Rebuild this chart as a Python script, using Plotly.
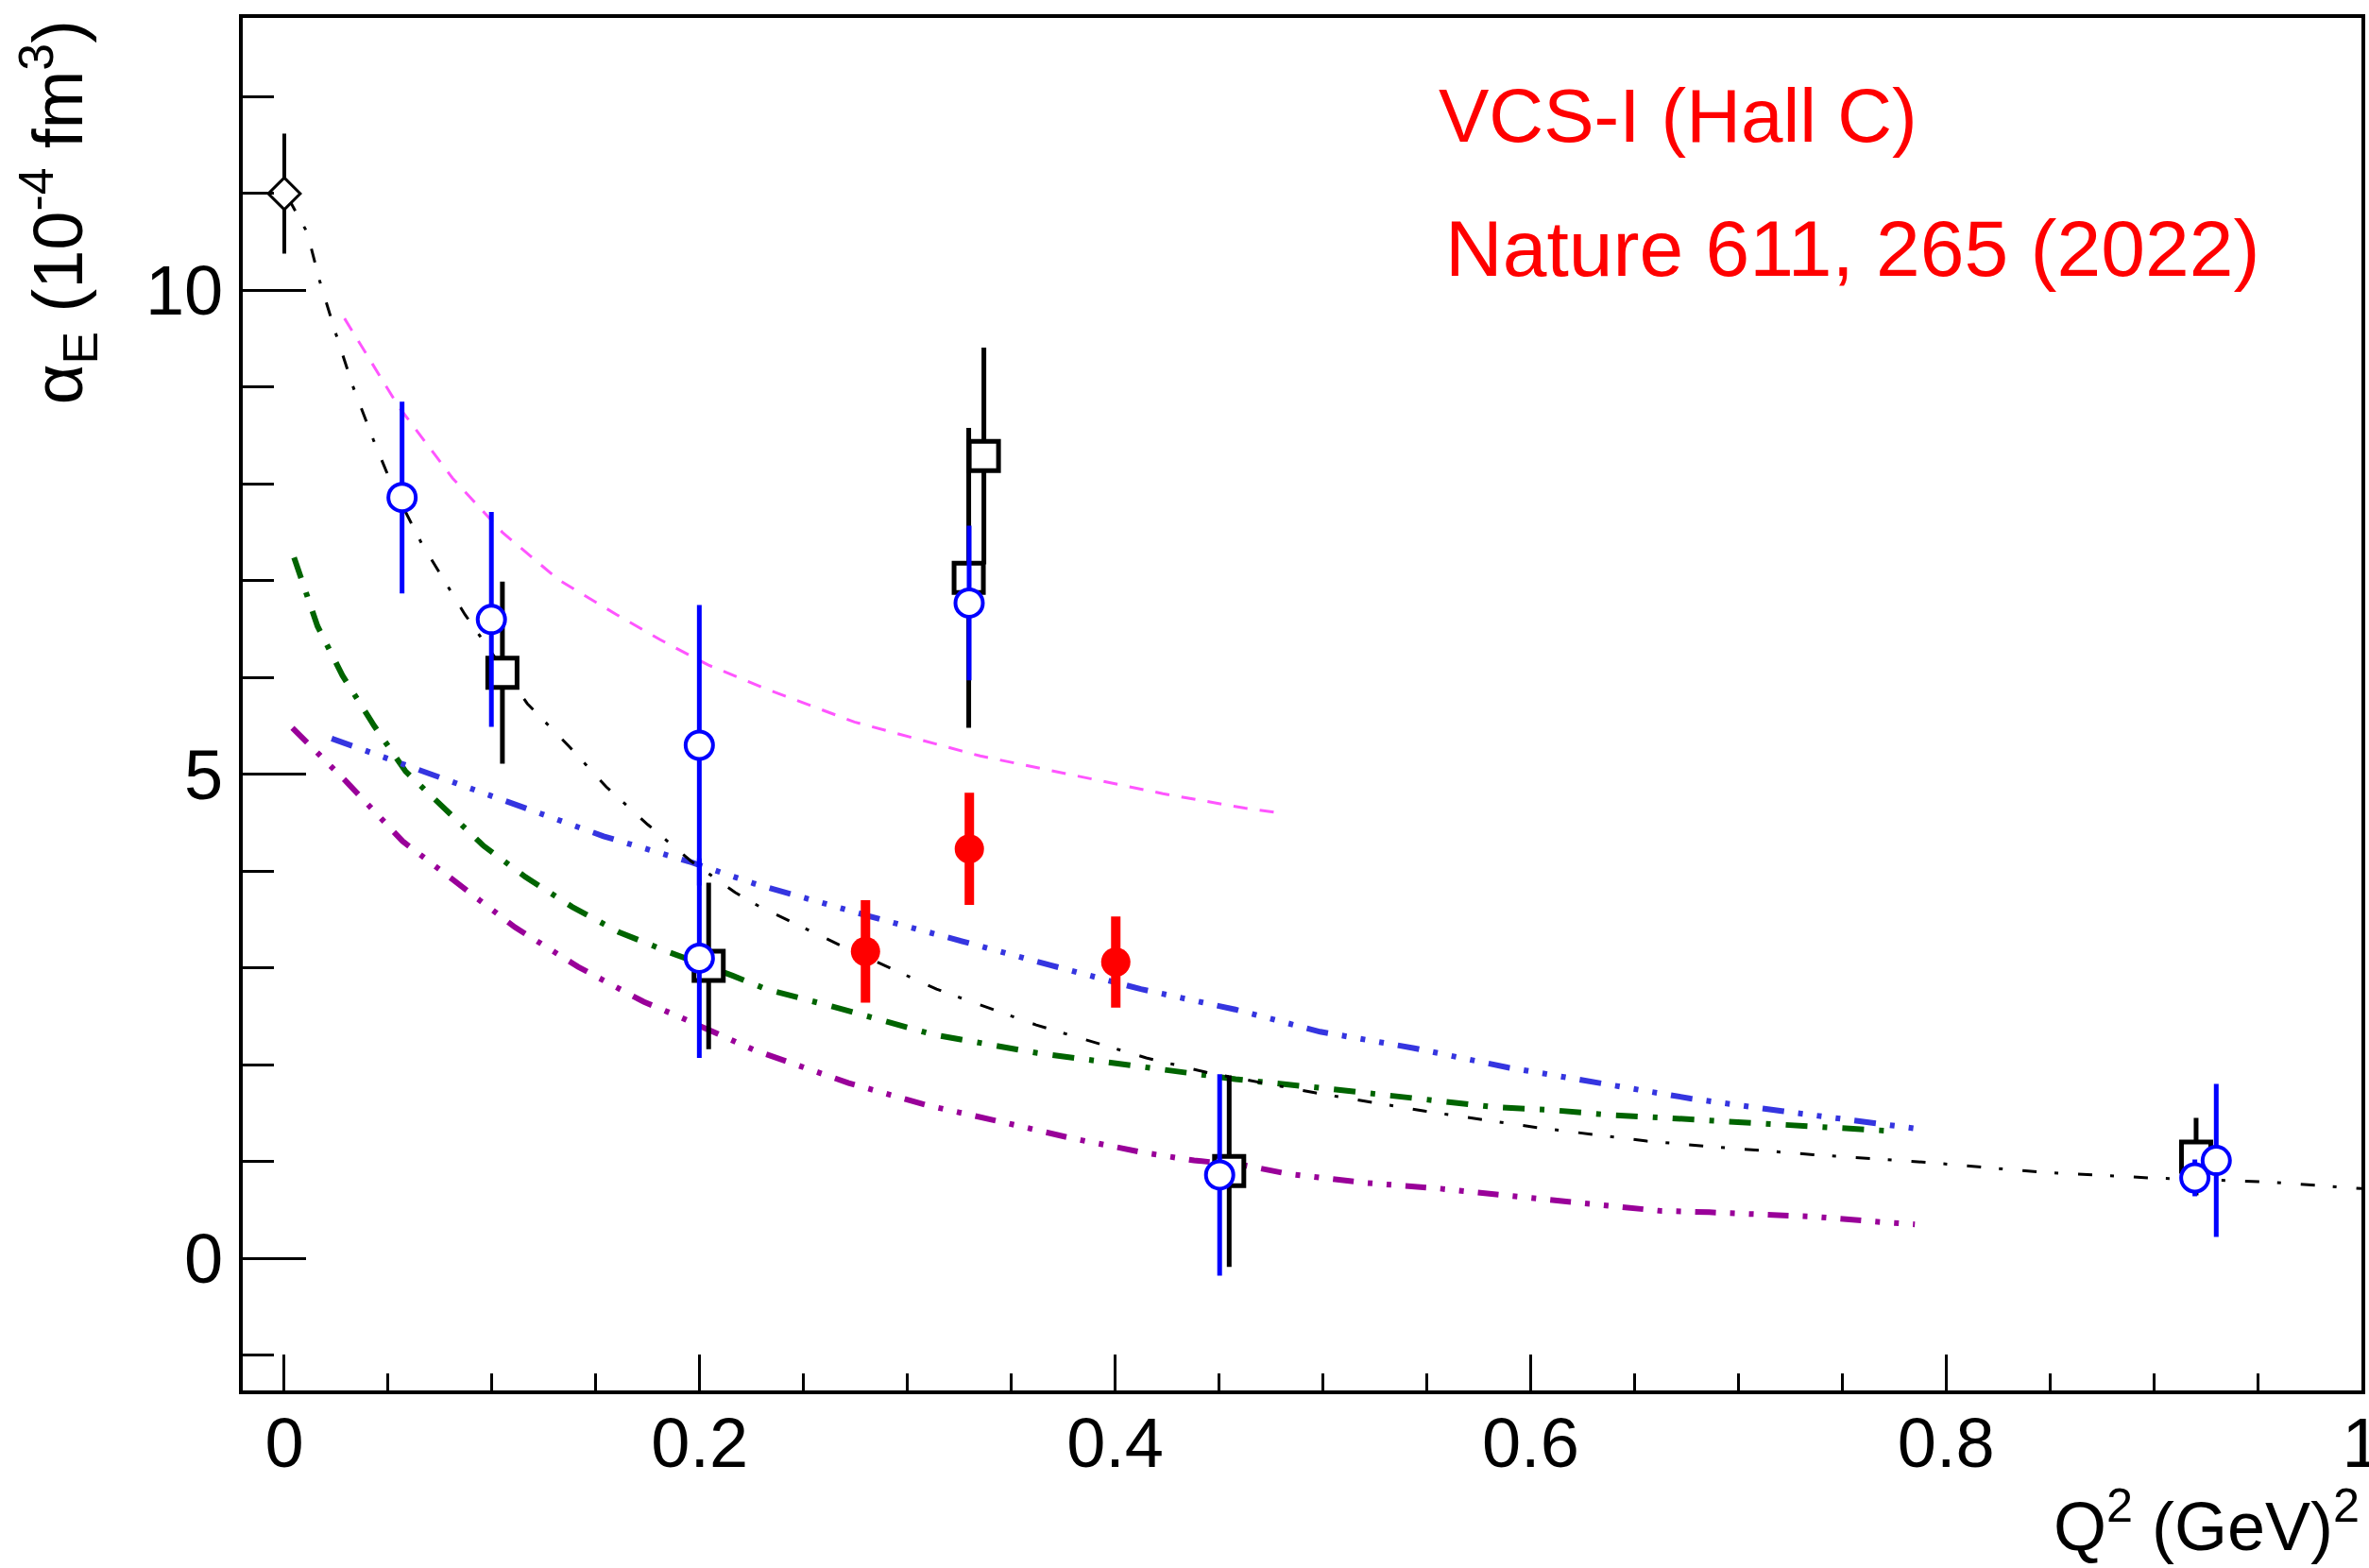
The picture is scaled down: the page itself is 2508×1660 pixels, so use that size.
import plotly.graph_objects as go

# ---------------- data ----------------
# RCS point (open diamond)
rcs_x = [0.0]
rcs_y = [11.0]
rcs_err = [0.62]

# black open squares
sq_x = [0.1050, 0.2043, 0.3295, 0.3368, 0.4549, 0.9204]
sq_y = [6.05, 3.02, 7.03, 8.29, 0.90, 1.05]
sq_err = [0.94, 0.86, 1.55, 1.12, 0.99, 0.40]

# blue open circles
bl_x = [0.0567, 0.0997, 0.1998, 0.1998, 0.3297, 0.4503, 0.9198, 0.9301]
bl_y = [7.86, 6.60, 5.30, 3.10, 6.77, 0.86, 0.83, 1.01]
bl_err = [0.99, 1.11, 1.45, 1.03, 0.80, 1.04, 0.19, 0.79]

# red filled circles (VCS-I Hall C)
red_x = [0.2798, 0.3298, 0.4003]
red_y = [3.17, 4.23, 3.06]
red_err = [0.53, 0.58, 0.47]

# black dash-dot curve
k_x = [0.002, 0.011, 0.017, 0.025, 0.033, 0.043, 0.052, 0.066, 0.087, 0.117, 0.137,
       0.155, 0.175, 0.196, 0.217, 0.229, 0.267, 0.314, 0.362, 0.415, 0.444, 0.496,
       0.549, 0.603, 0.656, 0.683, 0.736, 0.791, 0.845, 0.898, 0.953, 1.0]
k_y = [10.95, 10.6, 10.1, 9.54, 9.01, 8.45, 7.98, 7.39, 6.65, 5.73, 5.29,
       4.87, 4.48, 4.10, 3.78, 3.63, 3.24, 2.78, 2.41, 2.07, 1.92, 1.71,
       1.52, 1.35, 1.21, 1.16, 1.07, 0.99, 0.89, 0.83, 0.79, 0.72]

# magenta dashed curve
m_x = [0.029, 0.055, 0.081, 0.105, 0.132, 0.160, 0.181, 0.204, 0.231, 0.2745,
       0.335, 0.378, 0.423, 0.4625, 0.480]
m_y = [9.71, 8.80, 8.06, 7.50, 7.01, 6.65, 6.39, 6.13, 5.89, 5.54,
       5.19, 5.00, 4.80, 4.65, 4.60]

# blue dash-dot-dot-dot curve
b_x = [0.0228, 0.0689, 0.111, 0.1537, 0.196, 0.2263, 0.2823, 0.326, 0.3685, 0.4124,
       0.4578, 0.4987, 0.544, 0.5893, 0.6318, 0.677, 0.721, 0.7664, 0.789]
b_y = [5.37, 5.01, 4.69, 4.36, 4.09, 3.87, 3.53, 3.27, 3.03, 2.78,
       2.57, 2.34, 2.17, 1.97, 1.81, 1.65, 1.52, 1.40, 1.33]

# green dash-dot curve
g_x = [0.0047, 0.016, 0.028, 0.0433, 0.0584, 0.0765, 0.096, 0.116, 0.1386, 0.161,
       0.1855, 0.2158, 0.232, 0.264, 0.3126, 0.3625, 0.4185, 0.458, 0.4987, 0.529,
       0.556, 0.5834, 0.6107, 0.638, 0.665, 0.691, 0.717, 0.7446, 0.777]
g_y = [7.24, 6.53, 6.02, 5.50, 5.03, 4.65, 4.26, 3.94, 3.63, 3.37,
       3.16, 2.92, 2.78, 2.60, 2.31, 2.12, 1.97, 1.85, 1.76, 1.69,
       1.63, 1.56, 1.53, 1.48, 1.45, 1.42, 1.385, 1.35, 1.31]

# purple dash-dot-dot curve
p_x = [0.0039, 0.0296, 0.0569, 0.0825, 0.111, 0.1415, 0.173, 0.1885, 0.2263, 0.2717,
       0.3095, 0.347, 0.379, 0.414, 0.438, 0.4624, 0.4836, 0.52, 0.556, 0.5925,
       0.6288, 0.662, 0.686, 0.736, 0.771, 0.785]
p_y = [5.48, 4.93, 4.31, 3.89, 3.42, 3.01, 2.65, 2.51, 2.15, 1.81,
       1.58, 1.40, 1.24, 1.09, 1.01, 0.96, 0.87, 0.78, 0.72, 0.64,
       0.56, 0.49, 0.475, 0.43, 0.37, 0.35]

# axis tick labels
x_tickvals = [0, 0.2, 0.4, 0.6, 0.8, 1.0]
x_ticktext = ["0", "0.2", "0.4", "0.6", "0.8", "1"]

FONT = "Liberation Sans"

fig = go.Figure()

# curves
fig.add_trace(go.Scatter(x=m_x, y=m_y, mode="lines",
                         line=dict(color="#ff55ff", width=3, dash="15px,13px")))
fig.add_trace(go.Scatter(x=p_x, y=p_y, mode="lines",
                         line=dict(color="#990099", width=6,
                                   dash="22px,15px,5px,15px,5px,15px")))
fig.add_trace(go.Scatter(x=g_x, y=g_y, mode="lines",
                         line=dict(color="#006400", width=6,
                                   dash="23px,16px,5px,16px")))
fig.add_trace(go.Scatter(x=b_x, y=b_y, mode="lines",
                         line=dict(color="#3535e0", width=6,
                                   dash="23px,15px,5px,15px,5px,15px,5px,15px")))
fig.add_trace(go.Scatter(x=k_x, y=k_y, mode="lines",
                         line=dict(color="black", width=3,
                                   dash="15px,19px,4px,21px")))

# data points
fig.add_trace(go.Scatter(
    x=sq_x, y=sq_y, mode="markers",
    marker=dict(symbol="square", size=31, color="white",
                line=dict(color="black", width=5)),
    error_y=dict(type="data", array=sq_err, visible=True, color="black",
                 thickness=5, width=0)))
fig.add_trace(go.Scatter(
    x=bl_x, y=bl_y, mode="markers",
    marker=dict(symbol="circle", size=29, color="white",
                line=dict(color="#0000ff", width=4)),
    error_y=dict(type="data", array=bl_err, visible=True, color="#0000ff",
                 thickness=5, width=0)))
fig.add_trace(go.Scatter(
    x=red_x, y=red_y, mode="markers",
    marker=dict(symbol="circle", size=31, color="#ff0000",
                line=dict(color="#ff0000", width=0)),
    error_y=dict(type="data", array=red_err, visible=True, color="#ff0000",
                 thickness=10, width=0)))
fig.add_trace(go.Scatter(
    x=rcs_x, y=rcs_y, mode="markers",
    marker=dict(symbol="diamond", size=26, color="white",
                line=dict(color="black", width=3)),
    error_y=dict(type="data", array=rcs_err, visible=True, color="black",
                 thickness=4, width=0)))

axis_common = dict(
    showgrid=False, zeroline=False, showline=True, linecolor="black",
    linewidth=4, mirror=True, ticks="inside", tickcolor="black", tickwidth=3,
    tickfont=dict(family=FONT, size=74, color="black"), automargin=False,
)

fig.update_layout(
    width=2508, height=1660,
    margin=dict(l=257, r=8, t=19, b=188, autoexpand=False),
    paper_bgcolor="white", plot_bgcolor="white",
    showlegend=False,
    xaxis=dict(range=[-0.02, 1.0], tickmode="array", tickvals=x_tickvals,
               ticktext=x_ticktext, ticklen=38, ticklabelstandoff=-12,
               ticklabeloverflow="allow",
               minor=dict(tickmode="linear", dtick=0.05, tick0=0, ticklen=18,
                          tickwidth=3, ticks="inside", tickcolor="black",
                          showgrid=False),
               **axis_common),
    yaxis=dict(range=[-1.366, 12.815], tick0=0, dtick=5, ticklen=67,
               ticklabelstandoff=2,
               minor=dict(dtick=1, tick0=0, ticklen=33, tickwidth=3,
                          ticks="inside", tickcolor="black", showgrid=False),
               **axis_common),
    annotations=[
        dict(text="α<sub>E</sub> (10<sup>-4</sup> fm<sup>3</sup>)",
             xref="paper", yref="paper", x=-0.087, y=1.0,
             xanchor="center", yanchor="top", textangle=-90, showarrow=False,
             font=dict(family=FONT, size=74, color="black")),
        dict(text="Q<sup>2</sup> (GeV)<sup>2</sup>",
             xref="paper", yref="paper", x=1.0, y=-0.128,
             xanchor="right", yanchor="bottom", showarrow=False,
             font=dict(family=FONT, size=72, color="black")),
        dict(text="VCS-I (Hall C)",
             xref="paper", yref="paper", x=0.5635, y=0.929,
             xanchor="left", yanchor="middle", showarrow=False,
             font=dict(family=FONT, size=80, color="#ff0000")),
        dict(text="Nature 611, 265 (2022)",
             xref="paper", yref="paper", x=0.5667, y=0.832,
             xanchor="left", yanchor="middle", showarrow=False,
             font=dict(family=FONT, size=84, color="#ff0000")),
    ],
)

fig.write_html("out.html")
